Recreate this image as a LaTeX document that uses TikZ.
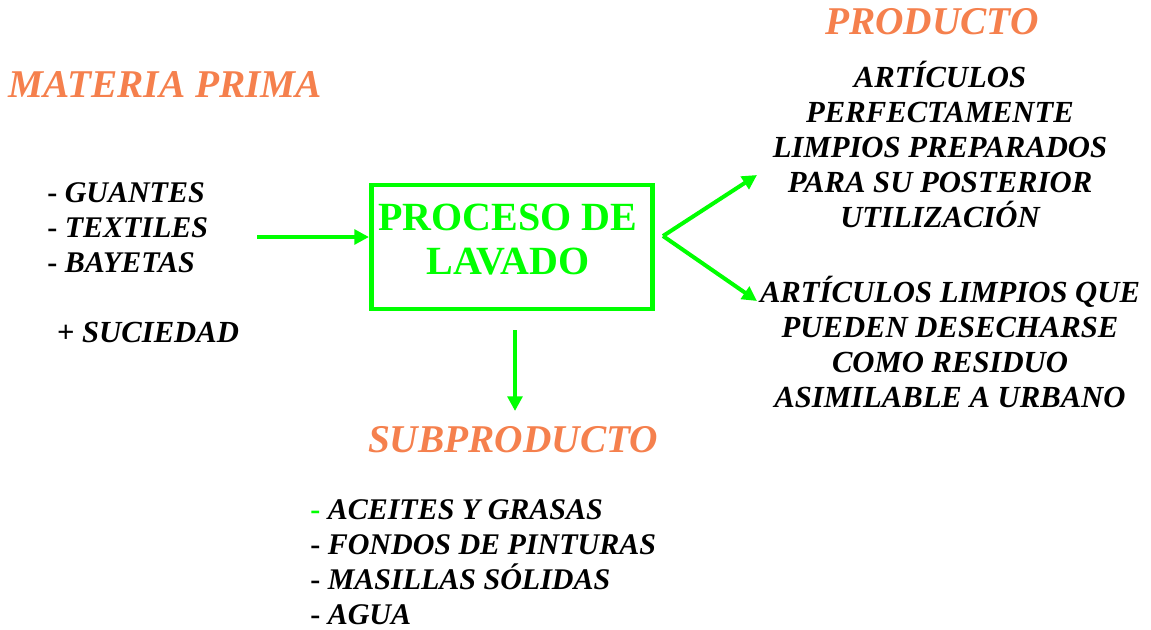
\documentclass[tikz,border=0pt]{standalone}
\usepackage{fontspec}
\setmainfont{Liberation Serif}
\usetikzlibrary{arrows.meta, positioning}
\definecolor{limegreen}{RGB}{0,255,0}
\definecolor{titleorange}{RGB}{245,128,77}

\begin{document}
\begin{tikzpicture}[x=0.75pt, y=-0.75pt]
		\tikzstyle{TitleName} = [text=titleorange, font=\fontsize{29.5}{34}\selectfont\bfseries\itshape]
		\tikzstyle{ItemText} = [align=center, font=\fontsize{23}{26.25}\selectfont\bfseries\itshape, inner sep=0pt]
		\tikzstyle{ListText} = [align=left, font=\fontsize{22.5}{26.25}\selectfont\bfseries\itshape, inner sep=0pt]
		\tikzstyle{ProcessBox} = [rectangle, minimum width=211pt, minimum height=93pt, draw=limegreen, line width=3.5pt]
		\tikzstyle{ProcessText} = [text=limegreen, align=center, inner sep=0pt, font=\fontsize{30}{33}\selectfont\bfseries]
		\tikzstyle{arrow} = [draw=limegreen, line width=3pt, -{Triangle[length=11pt, width=11pt]}]
		
		\useasboundingbox (0,0) rectangle (1151,629);
		
		\node (matTitle) [TitleName] at (165,85) {MATERIA PRIMA};
		\node (matList) [ListText, anchor=west] at (47,228) {\upshape- \itshape GUANTES\\ \upshape- \itshape TEXTILES\\ \upshape- \itshape BAYETAS};
		\node (dirt) [ItemText] at (148,332) {\upshape+ \itshape SUCIEDAD};
		
		\node (proc) [ProcessBox] at (512,247) {};
		\node (procText) [ProcessText] at (508,240) {PROCESO DE\\ LAVADO};
		
		\node (prodTitle) [TitleName] at (932,22) {PRODUCTO};
		\node (prodA) [ItemText] at (940,144) {ART\'ICULOS\\ PERFECTAMENTE\\ LIMPIOS PREPARADOS\\ PARA SU POSTERIOR\\ UTILIZACI\'ON};
		\node (prodB) [ItemText] at (950,342) {ART\'ICULOS LIMPIOS QUE\\ PUEDEN DESECHARSE\\ COMO RESIDUO\\ ASIMILABLE A URBANO};
		
		\node (subTitle) [TitleName] at (513,440) {SUBPRODUCTO};
		\node (subList) [ListText, anchor=west] at (310,562) {\upshape\textcolor{limegreen}{-} \itshape ACEITES Y GRASAS\\ \upshape- \itshape FONDOS DE PINTURAS\\ \upshape- \itshape MASILLAS S\'OLIDAS\\ \upshape- \itshape AGUA};
		
		\coordinate (inStart) at (257,237);
		\coordinate (split) at (663,236);
		\coordinate (prodAin) at (757,175);
		\coordinate (prodBin) at (757,301);
		\coordinate (subStart) at (515,330);
		\coordinate (subEnd) at (515,411);
		
		\draw[arrow] (inStart) -- (inStart -| proc.west);
		\draw[arrow] (split) -- (prodAin);
		\draw[arrow] (split) -- (prodBin);
		\draw[arrow] (subStart) -- (subEnd);
		\end{tikzpicture}
\end{document}
